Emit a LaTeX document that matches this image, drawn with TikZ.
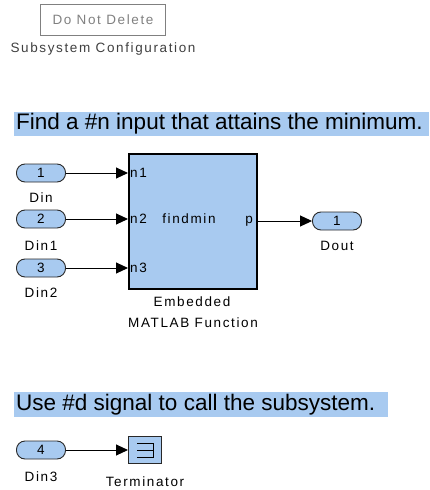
\documentclass[tikz,border=0pt]{standalone}
\usepackage{fontspec}
\setmainfont{Liberation Sans}
\newfontfamily\simfont[LetterSpace=12]{Liberation Sans}
\usetikzlibrary{arrows.meta}
\definecolor{simblue}{RGB}{168,202,240}
\definecolor{annblue}{RGB}{168,202,240}
\definecolor{edgegray}{RGB}{40,40,40}
\tikzset{
  lbl/.style={font=\simfont\fontsize{13.5}{15}\selectfont, inner sep=0pt},
  port/.style={draw=edgegray, line width=0.9pt, fill=simblue, rounded corners=8.5pt, minimum width=49pt, minimum height=18pt, inner sep=0pt, font=\simfont\fontsize{13.5}{15}\selectfont},
  sig/.style={-{Triangle[length=12pt,width=11pt]}, line width=1pt},
  ann/.style={fill=annblue, inner sep=0pt, anchor=west, font=\fontsize{22.5}{24}\selectfont},
}
\begin{document}
\begin{tikzpicture}[x=1pt,y=-1pt]
\useasboundingbox (0,0) rectangle (430,490);
% Do not delete box
\node[draw=gray, line width=0.8pt, minimum width=125pt, minimum height=31pt, inner sep=0pt, lbl, text=gray] (dnd) at (103,20) {Do Not Delete};
\node[lbl, text=black!75] (subcfg) at (103,49) {Subsystem Configuration};
% annotation 1
\fill[annblue] (14,112) rectangle (429,136);
\node[ann] (ann1) at (16,124) {Find a \#n input that attains the minimum.};
% block
\node[draw=black, line width=2pt, fill=simblue, minimum width=128pt, minimum height=135pt, inner sep=0pt] (blk) at (192.5,221) {};
\node[lbl, anchor=west] (n1) at (130,173) {n1};
\node[lbl, anchor=west] (n2) at (130,219) {n2};
\node[lbl, anchor=west] (n3) at (130,268) {n3};
\node[lbl] (fm) at (189,219) {findmin};
\node[lbl, anchor=east] (pp) at (253,221) {p};
\node[lbl] (emb) at (192,302) {Embedded};
\node[lbl] (mfn) at (193,323) {MATLAB Function};
% inports
\node[port] (in1) at (41,173) {1};
\node[lbl] (din) at (41,198) {Din};
\node[port] (in2) at (41,219) {2};
\node[lbl] (din1) at (41,246) {Din1};
\node[port] (in3) at (41,268) {3};
\node[lbl] (din2) at (41,293) {Din2};
% outport
\node[port] (out1) at (337,221) {1};
\node[lbl] (dout) at (337,246) {Dout};
% connectors
\coordinate (b1) at (128,173);
\coordinate (b2) at (128,219);
\coordinate (b3) at (128,268);
\coordinate (bo) at (257,221);
\draw[sig] (in1.east) -- (b1);
\draw[sig] (in2.east) -- (b2);
\draw[sig] (in3.east) -- (b3);
\draw[sig] (bo) -- (out1.west);
% annotation 2
\fill[annblue] (14,392) rectangle (388,417);
\node[ann] (ann2) at (16,404.5) {Use \#d signal to call the subsystem.};
% inport 4 and terminator
\node[port] (in4) at (41,450) {4};
\node[lbl] (din3) at (41,477) {Din3};
\node[draw=edgegray, line width=1pt, fill=simblue, minimum width=33pt, minimum height=27pt, inner sep=0pt] (term) at (145,450) {};
\draw[line width=1pt] (137,443) -- (153,443) -- (153,457) -- (137,457) (137,450) -- (153,450);
\node[lbl] (termlbl) at (145,482) {Terminator};
\draw[sig] (in4.east) -- (term.west);
\end{tikzpicture}
\end{document}
